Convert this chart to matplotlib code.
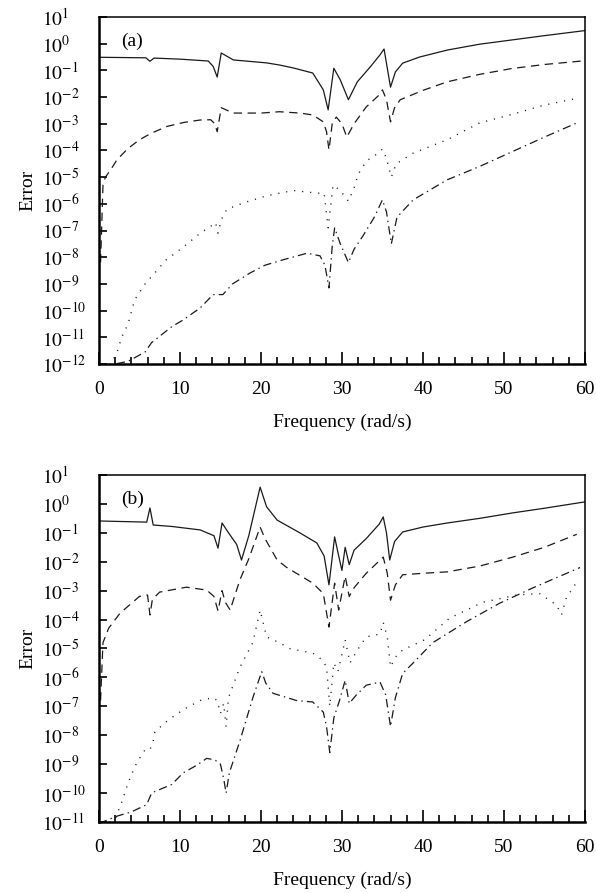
import numpy as np
import matplotlib
matplotlib.use("Agg")
import matplotlib.pyplot as plt
from matplotlib.ticker import MultipleLocator, NullLocator, FixedLocator

plt.rcParams['font.family'] = ['Liberation Serif', 'DejaVu Serif']
plt.rcParams['mathtext.fontset'] = 'stix'
plt.rcParams['lines.scale_dashes'] = False

# ---- panel (a) : error values read as log10(error) ----
a_f_solid = [0, 5.8, 6.3, 6.8, 10, 13.5, 14.1, 14.6, 15.1, 16.6, 20.7, 22.3, 24.0, 26.4, 27.7,
             28.3, 29.0, 29.8, 30.8, 31.9, 33.5, 34.7, 35.2, 36.0, 36.6, 37.5, 39.6, 43, 47, 51, 55, 60]
a_solid_log = [-0.51, -0.53, -0.66, -0.54, -0.58, -0.65, -0.85, -1.25, -0.35, -0.61, -0.72, -0.8, -0.91,
               -1.1, -1.73, -2.48, -0.92, -1.36, -2.1, -1.43, -0.87, -0.42, -0.2, -1.63, -1.06, -0.73,
               -0.5, -0.24, -0.02, 0.14, 0.3, 0.49]

a_f_dash = [0.2, 0.5, 0.8, 1.5, 2.2, 3.5, 5, 6.5, 8.4, 10.5, 12.5, 13.8, 14.3, 14.6, 15.1, 16.6, 20,
            22.3, 24.8, 26.4, 27.7, 28.1, 28.4, 28.8, 29.3, 30.0, 30.6, 31.5, 33, 34.5, 35.0, 35.5,
            36.0, 36.5, 37.2, 40, 43, 47, 51, 55, 59.6]
a_dash_log = [-8.2, -5.3, -5.0, -4.7, -4.36, -3.95, -3.6, -3.35, -3.1, -2.95, -2.86, -2.85, -3.0, -3.3,
              -2.4, -2.6, -2.6, -2.55, -2.6, -2.67, -2.93, -3.3, -3.98, -3.0, -2.75, -3.0, -3.5, -3.0,
              -2.37, -1.95, -1.73, -2.1, -2.93, -2.4, -2.1, -1.75, -1.43, -1.15, -0.93, -0.78, -0.65]

a_f_dot = [0.3, 1.5, 2.3, 2.8, 3.6, 4.4, 5.7, 8.3, 10.5, 12.5, 14.0, 14.4, 14.7, 15.1, 15.8, 18, 20.7,
           24, 26.9, 27.8, 28.3, 28.9, 29.8, 30.8, 31.5, 32, 33, 34.5, 35.0, 35.5, 36.1, 36.7, 38.8,
           43, 47, 51, 55, 59]
a_dot_log = [-12.0, -12.0, -11.5, -11.0, -10.5, -9.6, -9.0, -8.1, -7.6, -7.1, -6.8, -6.7, -7.1, -6.6,
             -6.2, -5.95, -5.7, -5.5, -5.6, -5.6, -6.9, -5.3, -5.5, -5.9, -5.4, -4.9, -4.4, -4.1,
             -3.95, -4.3, -5.0, -4.5, -4.1, -3.6, -2.97, -2.65, -2.3, -2.05]

a_f_dashdot = [0, 2, 3.6, 5.7, 6.5, 9, 10.4, 12.5, 14.1, 15.3, 16.5, 18.6, 20.5, 22.7, 25.7, 27.3,
               27.9, 28.4, 28.8, 29.1, 29.8, 30.8, 31.5, 32.6, 34, 35.0, 35.5, 36.1, 36.8, 38.8, 43,
               47, 51, 55, 59]
a_dashdot_log = [-12.1, -12.0, -11.9, -11.55, -11.2, -10.6, -10.35, -9.9, -9.4, -9.4, -9.0, -8.6,
                 -8.3, -8.1, -7.85, -7.95, -8.3, -9.15, -7.6, -6.9, -7.5, -8.2, -7.7, -7.2, -6.5,
                 -5.85, -6.3, -7.5, -6.5, -5.85, -5.1, -4.6, -4.05, -3.5, -2.97]

# ---- panel (b) ----
b_f_solid = [0, 5.9, 6.3, 6.7, 9, 12.5, 14.2, 14.7, 15.2, 16.0, 17.0, 17.6, 18.5, 19.9, 20.7, 22,
             24.8, 26.9, 27.8, 28.4, 29.1, 29.6, 30.0, 30.4, 30.9, 31.5, 33, 34.6, 35.1, 35.5, 35.9,
             36.5, 37.5, 40, 43, 47, 51.1, 55, 60]
b_solid_log = [-0.59, -0.63, -0.14, -0.73, -0.78, -0.9, -1.1, -1.53, -0.66, -1.0, -1.4, -1.94, -1.1,
               0.58, -0.1, -0.56, -1.0, -1.35, -1.8, -2.8, -1.14, -1.8, -2.3, -1.5, -2.1, -1.6, -1.2,
               -0.7, -0.45, -1.0, -1.94, -1.3, -0.97, -0.8, -0.66, -0.5, -0.31, -0.15, 0.07]

b_f_dash = [0.2, 0.5, 1.2, 2.6, 5, 6.0, 6.3, 6.6, 7.5, 10.8, 13.3, 14.2, 14.7, 15.2, 15.6, 16.2, 17.4,
            18.5, 19.9, 20.5, 22, 23.2, 26.4, 27.7, 28.4, 29.1, 29.6, 30.4, 30.9, 31.5, 33, 34.5,
            35.1, 35.6, 36.0, 36.6, 37.5, 40, 43, 47, 51.1, 55, 59]
b_dash_log = [-6.8, -4.8, -4.3, -3.78, -3.2, -3.15, -3.84, -3.3, -3.05, -2.88, -2.98, -3.2, -3.7,
              -3.0, -3.4, -3.67, -2.63, -1.9, -0.8, -1.2, -1.94, -2.2, -2.74, -3.1, -4.26, -2.74,
              -3.67, -2.5, -3.2, -2.9, -2.4, -2.0, -1.84, -2.4, -3.33, -2.8, -2.45, -2.4, -2.35,
              -2.15, -1.84, -1.5, -1.05]

b_f_dot = [0.3, 1.5, 2.0, 2.9, 3.6, 4.4, 5.0, 5.7, 6.3, 6.7, 6.9, 8, 9.2, 10.5, 12.5, 14.1, 14.6,
           15.0, 15.4, 15.7, 16.0, 16.4, 17.4, 19.0, 19.9, 20.7, 22.3, 23.5, 26.4, 27.6, 28.1, 28.5,
           29.0, 29.5, 30.0, 30.4, 31.0, 31.8, 33, 34.7, 35.1, 35.6, 36.0, 36.6, 37.5, 40.2, 43.3,
           47.4, 51.6, 54.4, 56.5, 57.1, 57.7, 59]
b_dot_log = [-11.0, -11.0, -10.9, -10.25, -9.65, -9.1, -8.8, -8.5, -8.5, -8.2, -7.9, -7.6, -7.35,
             -7.1, -6.8, -6.7, -6.8, -7.25, -6.9, -7.7, -6.7, -6.4, -5.65, -4.8, -3.67, -4.6, -4.8,
             -5.0, -5.16, -5.4, -5.64, -7.0, -5.5, -5.8, -5.2, -4.7, -5.5, -5.1, -4.6, -4.5, -4.1,
             -4.6, -5.64, -5.3, -5.05, -4.7, -3.95, -3.4, -3.15, -3.1, -3.5, -3.84, -3.25, -2.7]

b_f_dashdot = [0, 2.2, 4, 5.9, 6.5, 6.7, 9, 10.4, 12, 13.3, 14.3, 15.0, 15.4, 15.7, 16.1, 17.4, 19.0,
               20.1, 20.6, 21.5, 24.4, 26.4, 27.7, 28.1, 28.5, 29.0, 29.7, 30.4, 30.9, 31.8, 33,
               34.7, 35.4, 36.0, 36.6, 37.5, 38.8, 41.2, 45.4, 49.5, 53.6, 59.4]
b_dashdot_log = [-11.05, -10.8, -10.65, -10.4, -10.0, -9.97, -9.7, -9.3, -9.05, -8.8, -8.85, -9.0,
                 -9.5, -10.0, -9.3, -8.2, -6.7, -5.8, -6.2, -6.55, -6.8, -6.85, -7.2, -7.7, -8.6,
                 -7.4, -6.8, -6.1, -6.9, -6.6, -6.27, -6.16, -6.6, -7.7, -6.7, -5.86, -5.5, -4.8,
                 -4.07, -3.43, -2.9, -2.2]

x_ticks = [0, 10, 20, 30, 40, 50, 60]

styles = {
    'solid': dict(linestyle='-', lw=0.9),
    'dash': dict(linestyle=(0, (6, 4)), lw=0.9),
    'dot': dict(linestyle=(0, (0.8, 5)), lw=1.0),
    'dashdot': dict(linestyle=(0, (6, 3, 1, 3)), lw=0.9),
}


def draw_panel(ax, series, ymin_exp, tag):
    for f, lg, key in series:
        ax.plot(f, 10.0 ** np.array(lg), color='#1a1a1a', **styles[key])
    ax.set_yscale('log')
    ax.set_xlim(0, 60)
    ax.set_ylim(10.0 ** ymin_exp, 10.0 ** 1)
    exps = list(range(ymin_exp, 2))
    ax.yaxis.set_major_locator(FixedLocator([10.0 ** e for e in exps]))
    ax.yaxis.set_minor_locator(NullLocator())
    ax.set_yticklabels(['$10^{%d}$' % e for e in exps])
    for lab in ax.get_yticklabels():
        lab.set_horizontalalignment('left')
    ax.set_xticks(x_ticks)
    ax.xaxis.set_minor_locator(MultipleLocator(2))
    ax.tick_params(axis='y', which='major', direction='in', length=6, width=1.2,
                   labelsize=14, pad=41, right=False)
    ax.tick_params(axis='x', which='major', direction='in', length=9, width=1.2,
                   labelsize=14, pad=12, top=False)
    ax.tick_params(axis='x', which='minor', direction='in', length=5, width=1.2, top=False)
    for side in ['left', 'bottom']:
        ax.spines[side].set_linewidth(1.8)
    for side in ['top', 'right']:
        ax.spines[side].set_linewidth(1.1)
    ax.set_xlabel('Frequency (rad/s)', fontsize=14, labelpad=11.5)
    ax.set_ylabel('Error', fontsize=14, labelpad=4)
    ax.text(0.045, 0.955, tag, transform=ax.transAxes, fontsize=14, va='top', ha='left')


fig = plt.figure(figsize=(5.96, 8.93), dpi=100)
ax_a = fig.add_axes([0.166, 0.5924, 0.8154, 0.3886])
ax_b = fig.add_axes([0.166, 0.0795, 0.8154, 0.3886])

draw_panel(ax_a, [(a_f_solid, a_solid_log, 'solid'), (a_f_dash, a_dash_log, 'dash'),
                  (a_f_dot, a_dot_log, 'dot'), (a_f_dashdot, a_dashdot_log, 'dashdot')], -12, '(a)')
draw_panel(ax_b, [(b_f_solid, b_solid_log, 'solid'), (b_f_dash, b_dash_log, 'dash'),
                  (b_f_dot, b_dot_log, 'dot'), (b_f_dashdot, b_dashdot_log, 'dashdot')], -11, '(b)')

fig.savefig('out.png', dpi=100)
